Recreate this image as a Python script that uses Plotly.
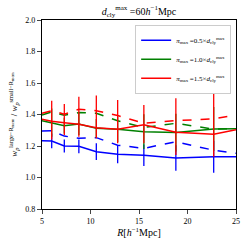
import plotly.graph_objects as go

R = [5.0, 6.0, 7.3, 8.8, 10.6, 12.8, 15.5, 18.8, 22.7, 25.0]

blue_solid = [1.234, 1.232, 1.200, 1.198, 1.164, 1.147, 1.141, 1.124, 1.132, 1.132]
green_solid = [1.360, 1.348, 1.329, 1.340, 1.312, 1.306, 1.291, 1.285, 1.308, 1.310]
red_solid = [1.370, 1.357, 1.348, 1.338, 1.316, 1.306, 1.335, 1.287, 1.275, 1.303]

blue_dash = [1.295, 1.297, 1.263, 1.249, 1.253, 1.205, 1.185, 1.227, 1.173, 1.154]
green_dash = [1.397, 1.416, 1.395, 1.412, 1.408, 1.360, 1.318, 1.344, 1.307, 1.312]
red_dash = [1.408, 1.424, 1.402, 1.433, 1.424, 1.393, 1.344, 1.361, 1.372, 1.398]

blue_err = [0, 0.047, 0.042, 0.044, 0.053, 0.057, 0.068, 0.081, 0.102, 0]
green_err = [0, 0.09, 0.05, 0.07, 0.06, 0.08, 0.11, 0.12, 0.14, 0]
red_err_hi = [0, 0.131, 0.119, 0.175, 0.204, 0.186, 0.125, 0.216, 0.287, 0]
red_err_lo = [0, 0.115, 0.078, 0.079, 0.067, 0.089, 0.118, 0.144, 0.143, 0]

labels = ["0.5", "1.0", "1.5"]
colors = ["#0000ff", "#008000", "#ff0000"]

fig = go.Figure()
serif = "Liberation Serif, DejaVu Serif, serif"

for ys, c in zip([blue_dash, green_dash, red_dash], colors):
    fig.add_trace(go.Scatter(x=R, y=ys, mode="lines", showlegend=False,
                             line=dict(color=c, width=1.5, dash="dash")))

solids = [blue_solid, green_solid, red_solid]
errs = [dict(type="data", array=blue_err, symmetric=True),
        dict(type="data", array=green_err, symmetric=True),
        dict(type="data", array=red_err_hi, arrayminus=red_err_lo, symmetric=False)]
for ys, c, e, lab in zip(solids, colors, errs, labels):
    e.update(color=c, thickness=1.3, width=0)
    fig.add_trace(go.Scatter(
        x=R, y=ys, mode="lines", error_y=e,
        line=dict(color=c, width=1.5),
        name="<i>π</i><sub>max</sub> =" + lab + "×<i>d</i><sub>cly</sub><sup>max</sup>"))

fig.update_layout(
    width=249, height=246,
    margin=dict(l=42, r=13, t=20, b=37, autoexpand=False),
    paper_bgcolor="white", plot_bgcolor="white",
    font=dict(family=serif, size=8, color="black"),
    title=dict(text="<i>d</i><sub>cly</sub><sup>max</sup> =60<i>h</i><sup>−1</sup>Mpc",
               x=(42 + 97) / 249, xanchor="center", y=0.955, yanchor="middle",
               font=dict(size=10)),
    legend=dict(x=0.975, y=0.975, xanchor="right", yanchor="top",
                bgcolor="white", bordercolor="#cccccc", borderwidth=1,
                font=dict(size=7), tracegroupgap=0, itemwidth=30),
    xaxis=dict(range=[5, 25], tickvals=[5, 10, 15, 20, 25], ticks="outside",
               ticklen=4, showgrid=False, zeroline=False, showline=True,
               linecolor="black", linewidth=1.2, mirror=True, automargin=False,
               tickfont=dict(size=8),
               title=dict(text="<i>R</i>[<i>h</i><sup>−1</sup>Mpc]", font=dict(size=10), standoff=4)),
    yaxis=dict(range=[0.8, 2.0], tickvals=[0.8, 1.0, 1.2, 1.4, 1.6, 1.8, 2.0],
               ticktext=["0.8", "1.0", "1.2", "1.4", "1.6", "1.8", "2.0"],
               tickmode="array", ticks="outside", ticklen=4, showgrid=False,
               zeroline=False, showline=True, linecolor="black", linewidth=1.2,
               mirror=True, automargin=False, tickfont=dict(size=8),
               title=dict(text="<i>w</i><sub><i>p</i></sub><sup>large−R<sub>mem</sub></sup> / <i>w</i><sub><i>p</i></sub><sup>small−R<sub>mem</sub></sup>",
                          font=dict(size=9), standoff=6)),
)

fig.write_html("out.html", config={"displayModeBar": False},
               post_script="document.body.style.margin='0';")
